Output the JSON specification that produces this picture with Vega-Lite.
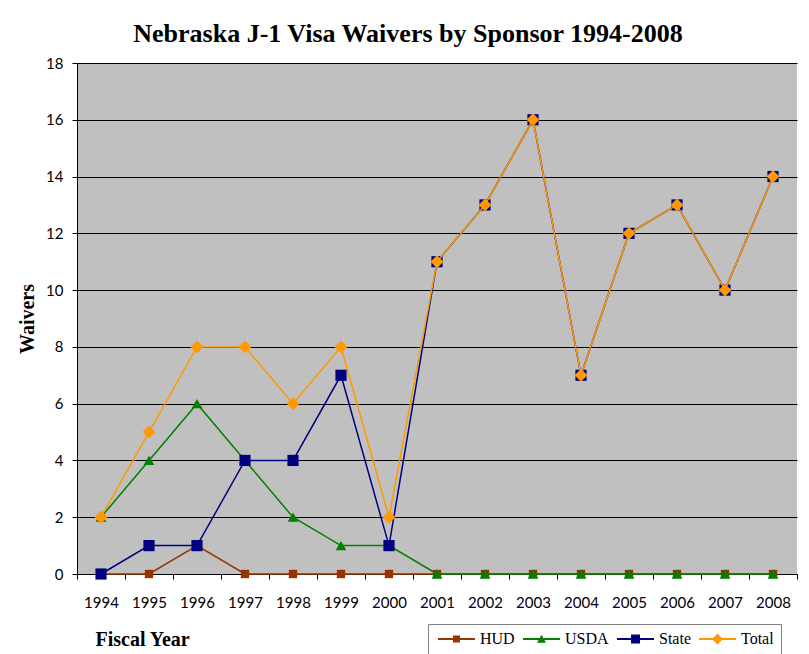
{
  "$schema": "https://vega.github.io/schema/vega-lite/v6.json",
  "width": 720,
  "height": 511,
  "autosize": {"type": "none"},
  "padding": {"left": 77, "top": 63, "right": 12, "bottom": 80},
  "background": "white",
  "title": {
    "text": "Nebraska J-1 Visa Waivers by Sponsor 1994-2008",
    "font": "Liberation Serif",
    "fontSize": 26,
    "fontWeight": "bold",
    "color": "black",
    "anchor": "middle",
    "frame": "group",
    "baseline": "alphabetic",
    "dx": -29,
    "offset": -12
  },
  "datasets": {
    "waivers": [
      {"year": 1994, "series": "HUD", "waivers": 0},
      {"year": 1995, "series": "HUD", "waivers": 0},
      {"year": 1996, "series": "HUD", "waivers": 1},
      {"year": 1997, "series": "HUD", "waivers": 0},
      {"year": 1998, "series": "HUD", "waivers": 0},
      {"year": 1999, "series": "HUD", "waivers": 0},
      {"year": 2000, "series": "HUD", "waivers": 0},
      {"year": 2001, "series": "HUD", "waivers": 0},
      {"year": 2002, "series": "HUD", "waivers": 0},
      {"year": 2003, "series": "HUD", "waivers": 0},
      {"year": 2004, "series": "HUD", "waivers": 0},
      {"year": 2005, "series": "HUD", "waivers": 0},
      {"year": 2006, "series": "HUD", "waivers": 0},
      {"year": 2007, "series": "HUD", "waivers": 0},
      {"year": 2008, "series": "HUD", "waivers": 0},
      {"year": 1994, "series": "USDA", "waivers": 2},
      {"year": 1995, "series": "USDA", "waivers": 4},
      {"year": 1996, "series": "USDA", "waivers": 6},
      {"year": 1997, "series": "USDA", "waivers": 4},
      {"year": 1998, "series": "USDA", "waivers": 2},
      {"year": 1999, "series": "USDA", "waivers": 1},
      {"year": 2000, "series": "USDA", "waivers": 1},
      {"year": 2001, "series": "USDA", "waivers": 0},
      {"year": 2002, "series": "USDA", "waivers": 0},
      {"year": 2003, "series": "USDA", "waivers": 0},
      {"year": 2004, "series": "USDA", "waivers": 0},
      {"year": 2005, "series": "USDA", "waivers": 0},
      {"year": 2006, "series": "USDA", "waivers": 0},
      {"year": 2007, "series": "USDA", "waivers": 0},
      {"year": 2008, "series": "USDA", "waivers": 0},
      {"year": 1994, "series": "State", "waivers": 0},
      {"year": 1995, "series": "State", "waivers": 1},
      {"year": 1996, "series": "State", "waivers": 1},
      {"year": 1997, "series": "State", "waivers": 4},
      {"year": 1998, "series": "State", "waivers": 4},
      {"year": 1999, "series": "State", "waivers": 7},
      {"year": 2000, "series": "State", "waivers": 1},
      {"year": 2001, "series": "State", "waivers": 11},
      {"year": 2002, "series": "State", "waivers": 13},
      {"year": 2003, "series": "State", "waivers": 16},
      {"year": 2004, "series": "State", "waivers": 7},
      {"year": 2005, "series": "State", "waivers": 12},
      {"year": 2006, "series": "State", "waivers": 13},
      {"year": 2007, "series": "State", "waivers": 10},
      {"year": 2008, "series": "State", "waivers": 14},
      {"year": 1994, "series": "Total", "waivers": 2},
      {"year": 1995, "series": "Total", "waivers": 5},
      {"year": 1996, "series": "Total", "waivers": 8},
      {"year": 1997, "series": "Total", "waivers": 8},
      {"year": 1998, "series": "Total", "waivers": 6},
      {"year": 1999, "series": "Total", "waivers": 8},
      {"year": 2000, "series": "Total", "waivers": 2},
      {"year": 2001, "series": "Total", "waivers": 11},
      {"year": 2002, "series": "Total", "waivers": 13},
      {"year": 2003, "series": "Total", "waivers": 16},
      {"year": 2004, "series": "Total", "waivers": 7},
      {"year": 2005, "series": "Total", "waivers": 12},
      {"year": 2006, "series": "Total", "waivers": 13},
      {"year": 2007, "series": "Total", "waivers": 10},
      {"year": 2008, "series": "Total", "waivers": 14}
    ],
    "legendrows": [
      {"year": 1994, "series": "HUD", "waivers": null},
      {"year": 1994, "series": "USDA", "waivers": null},
      {"year": 1994, "series": "State", "waivers": null},
      {"year": 1994, "series": "Total", "waivers": null}
    ]
  },
  "data": {"name": "waivers"},
  "encoding": {
    "x": {
      "field": "year",
      "type": "ordinal",
      "scale": {"type": "band", "paddingInner": 0, "paddingOuter": 0},
      "axis": {
        "tickBand": "extent",
        "grid": false,
        "tickSize": 5,
        "tickColor": "black",
        "domainColor": "black",
        "labelAngle": 0,
        "labelFont": "Lato",
        "labelFontSize": 15,
        "labelColor": "black",
        "labelPadding": 16,
        "title": "Fiscal Year",
        "titleFont": "Liberation Serif",
        "titleFontSize": 20,
        "titleFontWeight": "bold",
        "titleColor": "black",
        "titleAnchor": "start",
        "titleAlign": "left",
        "titleBaseline": "alphabetic",
        "titleX": 18,
        "titleY": 71
      }
    },
    "y": {
      "field": "waivers",
      "type": "quantitative",
      "scale": {"domain": [0, 18], "nice": false},
      "axis": {
        "values": [0, 2, 4, 6, 8, 10, 12, 14, 16, 18],
        "grid": true,
        "gridColor": "black",
        "gridOpacity": 1,
        "gridWidth": 1,
        "tickSize": 5,
        "tickColor": "black",
        "domainColor": "black",
        "labelFont": "Lato",
        "labelFontSize": 15,
        "labelColor": "black",
        "labelPadding": 9,
        "title": "Waivers",
        "titleFont": "Liberation Serif",
        "titleFontSize": 20,
        "titleFontWeight": "bold",
        "titleColor": "black",
        "titlePadding": 8
      }
    }
  },
  "layer": [
    {
      "transform": [{"filter": "datum.series == 'HUD'"}],
      "mark": {"type": "line", "strokeWidth": 1.5, "color": "#993300"}
    },
    {
      "transform": [{"filter": "datum.series == 'HUD'"}],
      "mark": {"type": "point", "filled": true, "opacity": 1, "shape": "square", "size": 70, "color": "#993300"}
    },
    {
      "transform": [{"filter": "datum.series == 'USDA'"}],
      "mark": {"type": "line", "strokeWidth": 1.5, "color": "#008000"}
    },
    {
      "transform": [{"filter": "datum.series == 'USDA'"}],
      "mark": {"type": "point", "filled": true, "opacity": 1, "shape": "triangle-up", "size": 115, "color": "#008000"}
    },
    {
      "transform": [{"filter": "datum.series == 'State'"}],
      "mark": {"type": "line", "strokeWidth": 1.5, "color": "#000080"}
    },
    {
      "transform": [{"filter": "datum.series == 'State'"}],
      "mark": {"type": "point", "filled": true, "opacity": 1, "shape": "square", "size": 125, "color": "#000080"}
    },
    {
      "transform": [{"filter": "datum.series == 'Total'"}],
      "mark": {"type": "line", "strokeWidth": 1.5, "color": "#FF9900"}
    },
    {
      "transform": [{"filter": "datum.series == 'Total'"}],
      "mark": {"type": "point", "filled": true, "opacity": 1, "shape": "diamond", "size": 165, "color": "#FF9900"}
    },
    {
      "data": {"name": "legendrows"},
      "mark": {"type": "point", "filled": true, "opacity": 1, "strokeWidth": 0},
      "encoding": {
        "color": {
          "field": "series",
          "type": "nominal",
          "scale": {"domain": ["HUD", "USDA", "State", "Total"], "range": ["#993300", "#008000", "#000080", "#FF9900"]},
          "legend": {"title": null}
        },
        "shape": {
          "field": "series",
          "type": "nominal",
          "scale": {
            "domain": ["HUD", "USDA", "State", "Total"],
            "range": [
              "M-1,-0.18H6.4V0.18H-1ZM2,-0.7H3.4V0.7H2Z",
              "M-1,-0.18H6.4V0.18H-1ZM1.8,0.75L2.7,-0.85L3.6,0.75Z",
              "M-1,-0.18H6.4V0.18H-1ZM1.8,-0.9H3.6V0.9H1.8Z",
              "M-1,-0.18H6.4V0.18H-1ZM1.6,0L2.7,-1.1L3.8,0L2.7,1.1Z"
            ]
          },
          "legend": {"title": null}
        }
      }
    }
  ],
  "config": {
    "view": {"fill": "#C0C0C0", "stroke": null},
    "legend": {
      "orient": "none",
      "legendX": 351,
      "legendY": 561,
      "direction": "horizontal",
      "labelFont": "Liberation Serif",
      "labelFontSize": 16,
      "labelColor": "black",
      "symbolSize": 100,
      "symbolStrokeWidth": 0,
      "labelOffset": 29,
      "columnPadding": 5,
      "padding": 7,
      "strokeColor": "#808080",
      "fillColor": "white"
    }
  }
}
